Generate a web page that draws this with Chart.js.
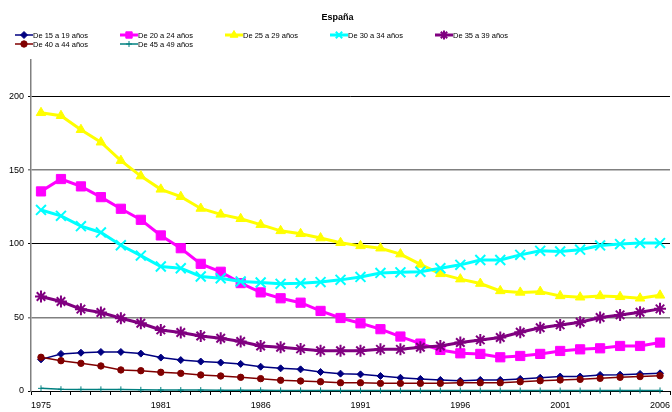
<!DOCTYPE html>
<html>
<head>
<meta charset="utf-8">
<script src="https://cdn.jsdelivr.net/npm/chart.js@4.4.0/dist/chart.umd.min.js"></script>
<style>
  html, body { margin: 0; padding: 0; background: #fff; }
  #wrap { position: relative; width: 672px; height: 412px; }
  #legend { position: absolute; left: 0; top: 0; width: 672px; height: 60px; font-family: "Liberation Sans", Arial, sans-serif; font-size: 7.5px; color: #000; }
  .item { position: absolute; display: flex; align-items: center; height: 10px; white-space: nowrap; }
  .item canvas { display: block; margin-right: 0px; }
</style>
</head>
<body>
<div id="wrap">
  <canvas id="c" width="672" height="412"></canvas>
  <div id="legend"></div>
</div>
<script>
// ---- Data ----
const years = ['1975','1976','1977','1978','1979','1980','1981','1982','1983','1984','1985','1986','1987','1988','1989','1990','1991','1992','1993','1994','1995','1996','1997','1998','1999','2000','2001','2002','2003','2004','2005','2006'];
const tickLabels = ['1975','1981','1986','1991','1996','2001','2006'];
const yTicks = [0, 50, 100, 150, 200];
const seriesNames = ['De 15 a 19 años','De 20 a 24 años','De 25 a 29 años','De 30 a 34 años','De 35 a 39 años','De 40 a 44 años','De 45 a 49 años'];

const g15_19 = [21.5, 25.2, 26, 26.5, 26.5, 25.4, 22.7, 21, 20, 19.3, 18.4, 16.5, 15.4, 14.7, 12.9, 11.8, 11.3, 10.2, 9, 8.2, 7.5, 7, 7.5, 7.5, 8.2, 9, 9.8, 9.8, 10.9, 11.1, 11.6, 12];
const g20_24 = [135.6, 144, 139, 131.7, 123.8, 116.3, 105.7, 97, 86.4, 81, 73.3, 67, 63, 60, 54.4, 49.6, 46, 42, 37, 32.2, 27.9, 25.6, 25.2, 22.9, 23.8, 25.2, 27.2, 28.3, 29, 30.6, 30.6, 32.9];
const g25_29 = [189, 187, 177.5, 169, 156.5, 146, 137, 132, 124, 120, 117, 113, 108.8, 106.8, 103.9, 100.7, 98.6, 97, 93, 86, 79.6, 76, 73, 68, 67, 67.5, 64.6, 63.7, 64.6, 64, 63, 65];
const g30_34 = [123, 119, 112, 107.7, 99, 92, 84.6, 83.4, 77.8, 76.6, 74.4, 73.7, 72.8, 73.2, 74, 75.5, 77.5, 80.2, 80.6, 81, 83.4, 85.7, 89, 89, 92.5, 95.2, 94.8, 96, 98.9, 99.8, 100.5, 100.5];
const g35_39 = [64.2, 60.8, 55.6, 53.3, 49.4, 46, 41.5, 39.7, 37.4, 35.8, 33.6, 30.6, 29.7, 28.6, 27.4, 27.3, 27.4, 28.3, 28.3, 29.7, 30.6, 32.9, 34.7, 36.3, 39.9, 43, 44.9, 46.7, 49.9, 51.7, 53.5, 55.8];
const g40_44 = [22.9, 20.6, 18.8, 17, 14.3, 13.8, 12.7, 12, 10.9, 10.2, 9.3, 8.4, 7.3, 6.8, 6.3, 5.6, 5.6, 5.2, 5.2, 5.2, 5.2, 5.6, 5.6, 5.6, 6.3, 7, 7.5, 7.9, 8.6, 9.3, 9.8, 10.4];
const g45_49 = [1.8, 1.2, 1.1, 1.1, 1.1, 0.8, 0.7, 0.6, 0.6, 0.5, 0.5, 0.5, 0.4, 0.4, 0.4, 0.3, 0.3, 0.3, 0.3, 0.3, 0.3, 0.3, 0.3, 0.3, 0.3, 0.3, 0.3, 0.3, 0.3, 0.4, 0.4, 0.4];

// ---- Styles ----
const seriesData = [g15_19, g20_24, g25_29, g30_34, g35_39, g40_44, g45_49];
const styles = [
  { color: '#000080', lw: 1.5, ps: 'rectRot', r: 3.5, bw: 1 },
  { color: '#FF00FF', lw: 3,   ps: 'rect',    r: 6.5, bw: 1 },
  { color: '#FFFF00', lw: 3,   ps: 'triangle',r: 5.5, bw: 1 },
  { color: '#00FFFF', lw: 3,   ps: 'crossRot',r: 7,   bw: 2 },
  { color: '#800080', lw: 3,   ps: 'star',    r: 6,   bw: 2 },
  { color: '#800000', lw: 1.5, ps: 'circle',  r: 3.2, bw: 1 },
  { color: '#008080', lw: 1.5, ps: 'cross',   r: 3,   bw: 1 }
];

const datasets = seriesNames.map((name, i) => ({
  label: name,
  data: seriesData[i],
  borderColor: styles[i].color,
  backgroundColor: styles[i].color,
  borderWidth: styles[i].lw,
  pointStyle: styles[i].ps,
  pointRadius: styles[i].r,
  pointBorderWidth: styles[i].bw,
  pointBackgroundColor: styles[i].color,
  pointBorderColor: styles[i].color,
  tension: 0,
  fill: false,
  clip: false,
  order: -i
}));

new Chart(document.getElementById('c'), {
  type: 'line',
  data: { labels: years, datasets },
  options: {
    responsive: false,
    animation: false,
    events: [],
    layout: { autoPadding: false, padding: { left: 5, right: 2, top: 0, bottom: 0 } },
    plugins: {
      legend: { display: false },
      tooltip: { enabled: false },
      title: {
        display: true,
        text: 'España',
        color: '#000',
        font: { family: '"Liberation Sans", Arial, sans-serif', size: 9, weight: 'bold' },
        padding: { top: 12, bottom: 37 }
      }
    },
    scales: {
      x: {
        type: 'category',
        offset: true,
        afterFit: (scale) => { scale.paddingRight = 0; scale.paddingLeft = 0; scale.height = 21; },
        grid: { offset: true, drawOnChartArea: false, drawTicks: true, tickLength: 4, color: '#000', lineWidth: 1 },
        border: { display: true, color: '#000', width: 1 },
        ticks: {
          autoSkip: false, maxRotation: 0, minRotation: 0, padding: 5,
          color: '#000',
          font: { family: '"Liberation Sans", Arial, sans-serif', size: 9 },
          callback: function(v, i) { const l = years[i]; return tickLabels.includes(l) ? l : ''; }
        }
      },
      y: {
        min: 0, max: 225,
        afterBuildTicks: (scale) => { scale.ticks = yTicks.map(v => ({ value: v })); },
        grid: {
          drawTicks: true, tickLength: 3,
          color: (ctx) => (ctx.tick && (ctx.tick.value === 50 || ctx.tick.value === 150)) ? '#808080' : '#000',
          lineWidth: (ctx) => (ctx.tick && (ctx.tick.value === 50 || ctx.tick.value === 150)) ? 1.5 : 1
        },
        border: { display: true, color: '#808080', width: 1.5 },
        ticks: {
          padding: 4, color: '#000',
          font: { family: '"Liberation Sans", Arial, sans-serif', size: 9 }
        }
      }
    }
  }
});

// ---- HTML legend ----
function drawSample(cv, st) {
  const ctx = cv.getContext('2d');
  const w = cv.width, h = cv.height, cx = w / 2, cy = h / 2;
  ctx.strokeStyle = st.color; ctx.fillStyle = st.color;
  ctx.lineWidth = st.lw;
  ctx.beginPath(); ctx.moveTo(0, cy); ctx.lineTo(w, cy); ctx.stroke();
  const r = Math.min(st.r, 4.5);
  if (Chart.helpers && Chart.helpers.drawPoint) {
    ctx.lineWidth = st.bw;
    ctx.beginPath();
    Chart.helpers.drawPoint(ctx, { pointStyle: st.ps, rotation: 0, borderWidth: st.bw, radius: r }, cx, cy);
  } else {
    ctx.beginPath(); ctx.arc(cx, cy, 3, 0, Math.PI * 2); ctx.fill();
  }
}
const leg = document.getElementById('legend');
seriesNames.forEach((name, i) => {
  const col = i % 5, row = Math.floor(i / 5);
  const d = document.createElement('div');
  d.className = 'item';
  d.style.left = (15 + 105 * col) + 'px';
  d.style.top = (30 + 9.3 * row) + 'px';
  const cv = document.createElement('canvas');
  cv.width = 18; cv.height = 10;
  drawSample(cv, styles[i]);
  d.appendChild(cv);
  const s = document.createElement('span');
  s.textContent = name;
  d.appendChild(s);
  leg.appendChild(d);
});
</script>
</body>
</html>
